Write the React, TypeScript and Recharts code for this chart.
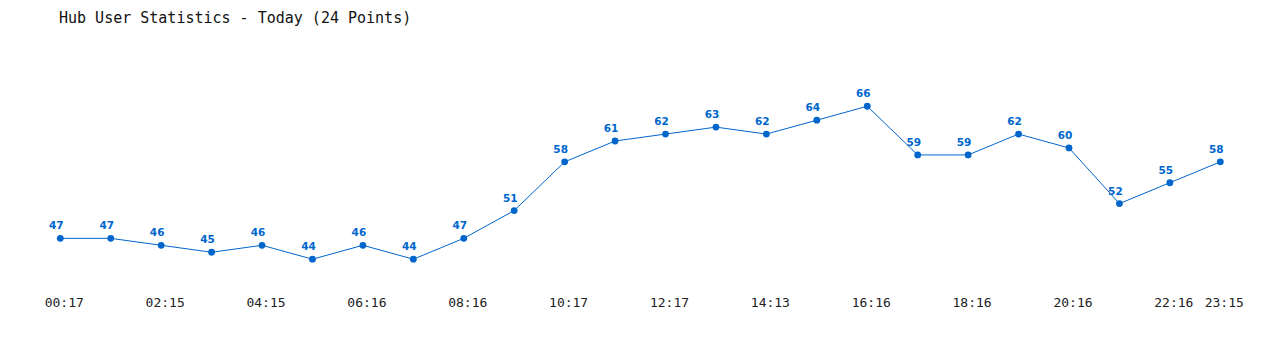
import React from 'react';
import { LineChart, Line, XAxis, YAxis, LabelList } from 'recharts';

const times = ['00:17','01:16','02:15','03:15','04:15','05:16','06:16','07:16','08:16','09:16','10:17','11:17','12:17','13:14','14:13','15:16','16:16','17:16','18:16','19:16','20:16','21:16','22:16','23:15'];
const users = [47,47,46,45,46,44,46,44,47,51,58,61,62,63,62,64,66,59,59,62,60,52,55,58];
const shownTickIdx = [0,2,4,6,8,10,12,14,16,18,20,22,23];

const data = times.map((t, i) => ({ t, v: users[i], i }));
const BLUE = '#0066cc';

const Tick = (props: any) => {
  const { x, y, payload, index } = props;
  if (!shownTickIdx.includes(index)) return null;
  return (
    <text x={x + 4} y={y + 12} textAnchor="middle" fill="#222" fontFamily="'DejaVu Sans Mono', monospace" fontSize={13}>
      {payload.value}
    </text>
  );
};

const ValueLabel = (props: any) => {
  const x = props.x ?? props.viewBox?.x;
  const y = props.y ?? props.viewBox?.y;
  return (
    <text x={x - 4} y={y - 9} textAnchor="middle" fill={BLUE} fontFamily="'DejaVu Sans', sans-serif" fontWeight="bold" fontSize={10.5}>
      {props.value}
    </text>
  );
};

export default function App() {
  return (
    <div style={{ position: 'absolute', left: 0, top: 0, width: 1280, height: 350, background: '#fff' }}>
      <div style={{ position: 'absolute', left: 59, top: 10, fontFamily: "'DejaVu Sans Mono', monospace", fontSize: 15, lineHeight: '16px', color: '#111', whiteSpace: 'pre' }}>
        Hub User Statistics - Today (24 Points)
      </div>
      <LineChart width={1280} height={350} data={data} margin={{ top: 78.45, right: 59.7, bottom: 33, left: 60.3 }}>
        <XAxis dataKey="t" height={30} axisLine={false} tickLine={false} interval={0} tick={<Tick />} />
        <YAxis hide domain={[40, 70]} />
        <Line type="linear" dataKey="v" stroke={BLUE} strokeWidth={1} isAnimationActive={false}
          dot={{ r: 3.4, fill: BLUE, stroke: 'none' }} activeDot={false}>
          <LabelList dataKey="v" content={<ValueLabel />} />
        </Line>
      </LineChart>
    </div>
  );
}
